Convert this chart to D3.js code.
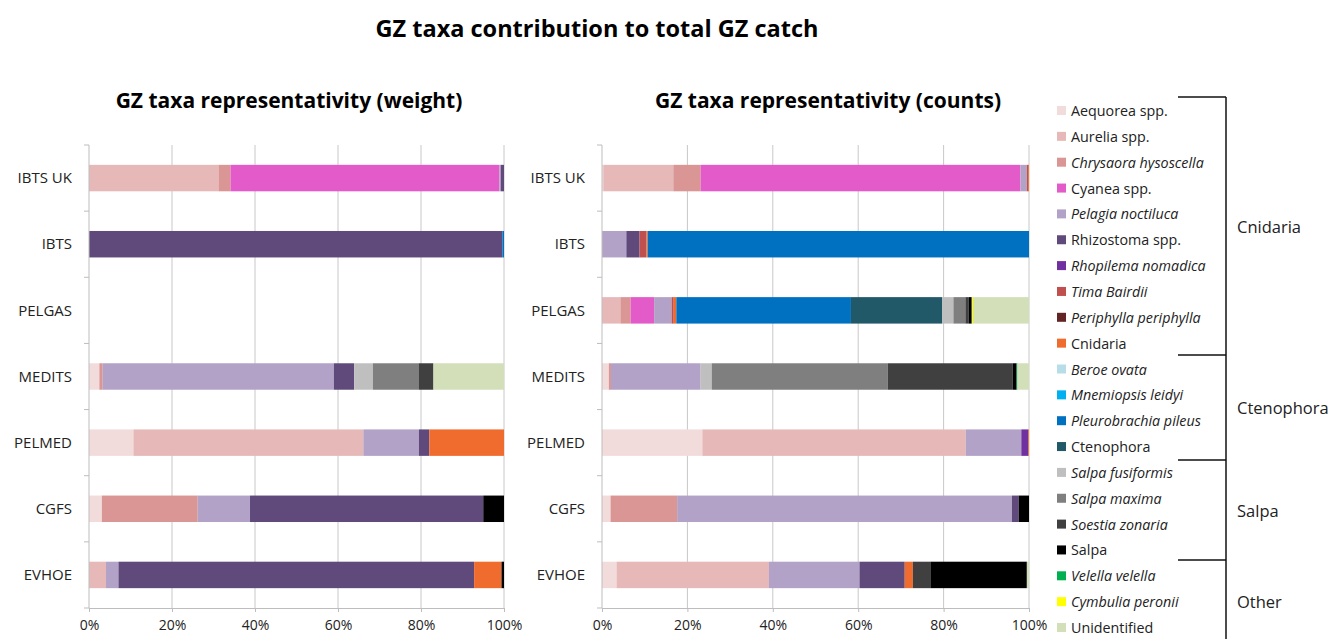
<!DOCTYPE html>
<html>
<head>
<meta charset="utf-8">
<script src="https://cdn.jsdelivr.net/npm/d3@7"></script>
<style>
  html, body { margin: 0; padding: 0; background: #fff; }
  svg { display: block; font-family: "Open Sans", "Liberation Sans", sans-serif; }
</style>
</head>
<body>
<div id="chart"></div>
<script>
const surveys = ["IBTS UK", "IBTS", "PELGAS", "MEDITS", "PELMED", "CGFS", "EVHOE"];

const taxa = [
  "Aequorea spp.", "Aurelia spp.", "Chrysaora hysoscella", "Cyanea spp.", "Pelagia noctiluca",
  "Rhizostoma spp.", "Rhopilema nomadica", "Tima Bairdii", "Periphylla periphylla", "Cnidaria",
  "Beroe ovata", "Mnemiopsis leidyi", "Pleurobrachia pileus", "Ctenophora",
  "Salpa fusiformis", "Salpa maxima", "Soestia zonaria", "Salpa",
  "Velella velella", "Cymbulia peronii", "Unidentified"
];

const taxaColors = [
  "#f2dcdb", "#e6b9b8", "#d99694", "#e25bc8", "#b3a2c7",
  "#604a7b", "#7030a0", "#c0504d", "#632523", "#ef6c2e",
  "#b7dee8", "#00b0f0", "#0070c0", "#215968",
  "#bfbfbf", "#7f7f7f", "#404040", "#000000",
  "#00b050", "#ffff00", "#d3dfb8"
];

const italicTaxa = [
  "Chrysaora hysoscella", "Pelagia noctiluca", "Rhopilema nomadica", "Tima Bairdii",
  "Periphylla periphylla", "Beroe ovata", "Mnemiopsis leidyi", "Pleurobrachia pileus",
  "Salpa fusiformis", "Salpa maxima", "Soestia zonaria", "Velella velella", "Cymbulia peronii"
];

// share of total catch (%), per survey
const weightShares = [
  {"Aurelia spp.": 31.2, "Chrysaora hysoscella": 2.9, "Cyanea spp.": 64.8, "Pelagia noctiluca": 0.3, "Rhizostoma spp.": 0.8},
  {"Rhizostoma spp.": 99.6, "Pleurobrachia pileus": 0.4},
  {},
  {"Aequorea spp.": 2.5, "Chrysaora hysoscella": 0.8, "Pelagia noctiluca": 55.7, "Rhizostoma spp.": 4.9, "Salpa fusiformis": 4.5, "Salpa maxima": 11.0, "Soestia zonaria": 3.6, "Unidentified": 17.0},
  {"Aequorea spp.": 10.7, "Aurelia spp.": 55.4, "Pelagia noctiluca": 13.4, "Rhizostoma spp.": 2.5, "Cnidaria": 18.0},
  {"Aequorea spp.": 3.1, "Chrysaora hysoscella": 23.1, "Pelagia noctiluca": 12.6, "Rhizostoma spp.": 56.2, "Salpa": 5.0},
  {"Aurelia spp.": 4.1, "Pelagia noctiluca": 3.0, "Rhizostoma spp.": 85.7, "Cnidaria": 6.6, "Salpa": 0.6}
];

const countShares = [
  {"Aequorea spp.": 0.3, "Aurelia spp.": 16.4, "Chrysaora hysoscella": 6.4, "Cyanea spp.": 74.9, "Pelagia noctiluca": 1.5, "Tima Bairdii": 0.3, "Cnidaria": 0.2},
  {"Pelagia noctiluca": 5.7, "Rhizostoma spp.": 3.1, "Tima Bairdii": 1.6, "Cnidaria": 0.3, "Pleurobrachia pileus": 89.3},
  {"Aurelia spp.": 4.3, "Chrysaora hysoscella": 2.4, "Cyanea spp.": 5.5, "Pelagia noctiluca": 4.1, "Tima Bairdii": 0.5, "Cnidaria": 0.6, "Pleurobrachia pileus": 40.9, "Ctenophora": 21.4, "Salpa fusiformis": 2.6, "Salpa maxima": 2.8, "Soestia zonaria": 0.8, "Salpa": 0.7, "Cymbulia peronii": 0.3, "Unidentified": 13.1},
  {"Aequorea spp.": 1.6, "Chrysaora hysoscella": 0.5, "Pelagia noctiluca": 21.0, "Salpa fusiformis": 2.6, "Salpa maxima": 41.2, "Soestia zonaria": 29.3, "Salpa": 0.9, "Velella velella": 0.2, "Unidentified": 2.7},
  {"Aequorea spp.": 23.5, "Aurelia spp.": 61.7, "Pelagia noctiluca": 13.0, "Rhopilema nomadica": 1.6, "Cnidaria": 0.2},
  {"Aequorea spp.": 2.0, "Chrysaora hysoscella": 15.6, "Pelagia noctiluca": 78.4, "Rhizostoma spp.": 1.6, "Salpa": 2.4},
  {"Aequorea spp.": 3.4, "Aurelia spp.": 35.7, "Pelagia noctiluca": 21.2, "Rhizostoma spp.": 10.6, "Cnidaria": 1.9, "Soestia zonaria": 4.1, "Salpa": 22.6, "Unidentified": 0.5}
];

const xTicks = [0, 20, 40, 60, 80, 100];

const groups = [
  {name: "Cnidaria", first: 0, last: 9},
  {name: "Ctenophora", first: 10, last: 13},
  {name: "Salpa", first: 14, last: 17},
  {name: "Other", first: 18, last: 20}
];

const W = 1340, H = 639;
const svg = d3.select("#chart").append("svg")
  .attr("width", W).attr("height", H);

svg.append("text")
  .attr("x", 597).attr("y", 37)
  .attr("text-anchor", "middle")
  .style("font-size", "23.5px").style("font-weight", "bold")
  .text("GZ taxa contribution to total GZ catch");

const color = d3.scaleOrdinal().domain(taxa).range(taxaColors);
const yScale = d3.scaleBand().domain(surveys).range([145, 608])
  .paddingInner(0.6).paddingOuter(0.3);

function panel(shares, title, x0, x1, titleX) {
  const xScale = d3.scaleLinear().domain([0, 100]).range([x0, x1]);
  const g = svg.append("g");

  g.append("text")
    .attr("x", titleX).attr("y", 108)
    .attr("text-anchor", "middle")
    .style("font-size", "21px").style("font-weight", "bold")
    .text(title);

  // Grid
  g.append("g").selectAll("line")
    .data(xTicks.slice(1)).enter().append("line")
    .attr("x1", d => xScale(d)).attr("x2", d => xScale(d))
    .attr("y1", 145).attr("y2", 608)
    .attr("stroke", "#c8c8c8").attr("stroke-width", 1);

  // Bars
  const rows = surveys.map((s, i) => Object.assign({survey: s}, shares[i]));
  const series = d3.stack().keys(taxa).value((d, k) => d[k] || 0)(rows);
  g.append("g").selectAll("g")
    .data(series).enter().append("g")
    .attr("fill", d => color(d.key))
    .selectAll("rect")
    .data(d => d.filter(p => p[1] > p[0])).enter().append("rect")
    .attr("x", d => xScale(d[0]))
    .attr("width", d => xScale(d[1]) - xScale(d[0]))
    .attr("y", d => yScale(d.data.survey))
    .attr("height", yScale.bandwidth());

  // Axes
  g.append("g").attr("transform", "translate(0,608)")
    .call(d3.axisBottom(xScale).tickValues(xTicks).tickFormat(d => d + "%").tickSize(4).tickPadding(8))
    .call(ax => ax.select(".domain").attr("stroke", "#bdbdbd"))
    .call(ax => ax.selectAll(".tick line").attr("stroke", "#bdbdbd"))
    .call(ax => ax.selectAll("text")
      .style("fill", "#222").style("font-size", "14px")
      .style("font-family", "Open Sans, sans-serif"));

  const step = yScale.step();
  const bounds = d3.range(surveys.length + 1).map(i => 145 + i * step);
  g.append("line")
    .attr("x1", x0).attr("x2", x0).attr("y1", 145).attr("y2", 608)
    .attr("stroke", "#bdbdbd");
  g.append("g").selectAll("line")
    .data(bounds).enter().append("line")
    .attr("x1", x0 - 5).attr("x2", x0)
    .attr("y1", d => d).attr("y2", d => d)
    .attr("stroke", "#bdbdbd");
  g.append("g").selectAll("text")
    .data(surveys).enter().append("text")
    .attr("x", x0 - 17)
    .attr("y", d => yScale(d) + yScale.bandwidth() / 2)
    .attr("dy", "0.35em")
    .attr("text-anchor", "end")
    .style("font-size", "15px").style("fill", "#222")
    .text(d => d);
}

panel(weightShares, "GZ taxa representativity (weight)", 89, 504, 289);
panel(countShares, "GZ taxa representativity (counts)", 602, 1029, 828);

// Legend
const legendY = d3.scaleLinear().domain([0, taxa.length - 1]).range([111, 628]);
const lg = svg.append("g");
lg.selectAll("rect")
  .data(taxa).enter().append("rect")
  .attr("x", 1057).attr("y", (d, i) => legendY(i) - 5)
  .attr("width", 9).attr("height", 9)
  .attr("fill", d => color(d));
lg.selectAll("text")
  .data(taxa).enter().append("text")
  .attr("x", 1071).attr("y", (d, i) => legendY(i))
  .attr("dy", "0.35em")
  .style("font-size", "14.3px").style("fill", "#222")
  .style("font-style", d => italicTaxa.includes(d) ? "italic" : "normal")
  .text(d => d);

// Group brackets
const bx = 1226;
const sep = [97, 355, 460, 560];
lg.append("line").attr("x1", bx).attr("x2", bx).attr("y1", 97).attr("y2", H)
  .attr("stroke", "#111").attr("stroke-width", 1.5);
sep.forEach(y => lg.append("line")
  .attr("x1", 1178).attr("x2", bx).attr("y1", y).attr("y2", y)
  .attr("stroke", "#111").attr("stroke-width", 1.5));
lg.selectAll(".grp")
  .data(groups).enter().append("text")
  .attr("x", 1237)
  .attr("y", d => (legendY(d.first) + legendY(d.last)) / 2)
  .attr("dy", "0.35em")
  .style("font-size", "16.5px").style("fill", "#222")
  .text(d => d.name);
</script>
</body>
</html>
